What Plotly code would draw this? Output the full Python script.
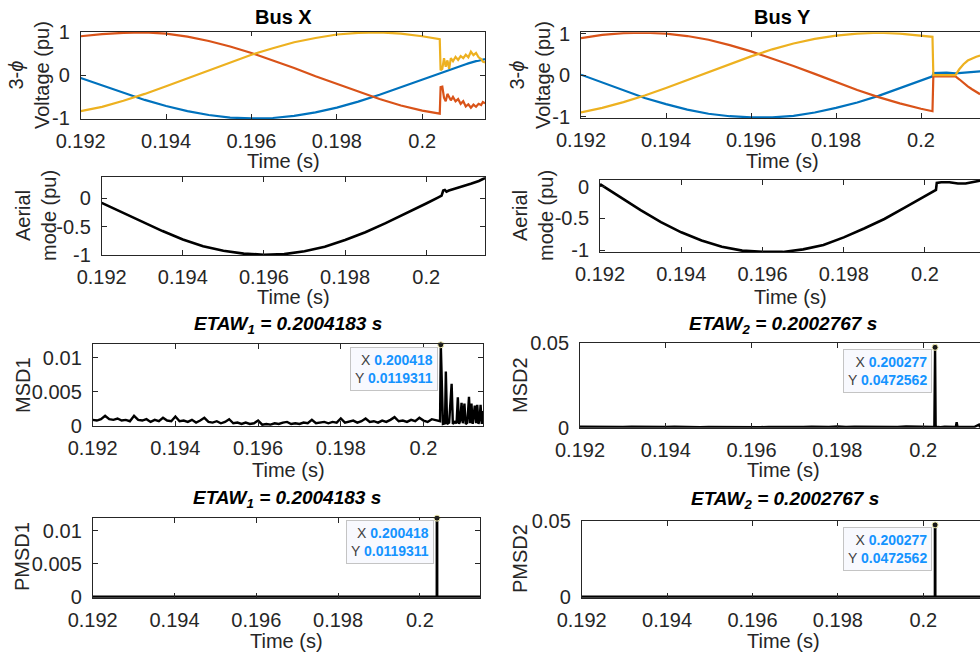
import numpy as np
import plotly.graph_objects as go

W, H = 980, 657

# ---------------- data ----------------
# Bus X three-phase voltages (pu)
t_bus_x = [0.192, 0.1925, 0.193, 0.1935, 0.194, 0.1945, 0.195, 0.1955, 0.196,
           0.1965, 0.197, 0.1975, 0.198, 0.1985, 0.199, 0.1995, 0.2, 0.20041,
           0.20043, 0.20047, 0.20051, 0.20055, 0.20059, 0.20063, 0.20067,
           0.20072, 0.20078, 0.20084, 0.20090, 0.20096, 0.20102, 0.20108,
           0.20114, 0.20120, 0.20126, 0.20132, 0.20138, 0.20142, 0.20147]
va_x = [-0.06, -0.23, -0.41, -0.57, -0.71, -0.83, -0.92, -0.98, -1.00,
        -0.99, -0.94, -0.86, -0.75, -0.61, -0.45, -0.27, -0.09, 0.05,
        0.06, 0.07, 0.09, 0.10, 0.11, 0.13, 0.14, 0.16, 0.18, 0.20, 0.22,
        0.24, 0.26, 0.28, 0.30, 0.31, 0.33, 0.34, 0.36, 0.37, 0.38]
vb_x = [0.91, 0.96, 0.99, 1.00, 0.97, 0.90, 0.80, 0.67, 0.52,
        0.35, 0.17, -0.02, -0.20, -0.38, -0.55, -0.70, -0.82, -0.89,
        -0.27, -0.26, -0.52, -0.60, -0.43, -0.50, -0.58, -0.50, -0.60,
        -0.55, -0.66, -0.60, -0.72, -0.67, -0.75, -0.68, -0.73, -0.66,
        -0.69, -0.62, -0.65]
vc_x = [-0.83, -0.73, -0.59, -0.43, -0.25, -0.07, 0.12, 0.30, 0.48,
        0.63, 0.77, 0.87, 0.95, 0.99, 1.00, 0.97, 0.91, 0.84,
        0.12, 0.15, 0.40, 0.20, 0.35, 0.15, 0.40, 0.33, 0.43, 0.36,
        0.45, 0.40, 0.48, 0.42, 0.55, 0.47, 0.52, 0.42, 0.38, 0.32, 0.30]

# Bus Y three-phase voltages (pu)
t_bus_y = [0.192, 0.1925, 0.193, 0.1935, 0.194, 0.1945, 0.195, 0.1955, 0.196,
           0.1965, 0.197, 0.1975, 0.198, 0.1985, 0.199, 0.1995, 0.2, 0.20027,
           0.20029, 0.2004, 0.2006, 0.20081, 0.2009, 0.2010, 0.2011, 0.2012,
           0.2013, 0.20139]
va_y = [0.01, -0.18, -0.37, -0.55, -0.70, -0.83, -0.93, -0.99, -1.02,
        -1.02, -0.98, -0.90, -0.79, -0.66, -0.50, -0.32, -0.13, -0.03,
        0.05, 0.06, 0.06, 0.04, 0.05, 0.06, 0.07, 0.07, 0.08, 0.09]
vb_y = [0.89, 0.97, 1.01, 1.02, 1.00, 0.94, 0.85, 0.72, 0.57,
        0.40, 0.22, 0.03, -0.17, -0.36, -0.53, -0.68, -0.81, -0.87,
        -0.03, -0.03, -0.03, -0.03, -0.10, -0.19, -0.27, -0.34, -0.41, -0.46]
vc_y = [-0.90, -0.79, -0.65, -0.49, -0.31, -0.12, 0.08, 0.27, 0.45,
        0.62, 0.76, 0.87, 0.95, 1.00, 1.02, 1.00, 0.95, 0.92,
        0.00, 0.00, 0.00, 0.00, 0.14, 0.26, 0.35, 0.40, 0.44, 0.47]

# Aerial mode (pu)
t_aer_x = [0.192, 0.1925, 0.193, 0.1935, 0.194, 0.1945, 0.195, 0.1955, 0.196,
           0.1965, 0.197, 0.1975, 0.198, 0.1985, 0.199, 0.1995, 0.2, 0.2003,
           0.20038, 0.20042, 0.20046, 0.2005, 0.20056, 0.2007, 0.2009, 0.2011,
           0.2013, 0.20147]
aer_x = [-0.08, -0.25, -0.42, -0.58, -0.73, -0.85, -0.93, -0.98, -1.00,
         -0.99, -0.94, -0.86, -0.74, -0.60, -0.44, -0.27, -0.09, 0.02,
         0.05, 0.14, 0.15, 0.12, 0.14, 0.17, 0.21, 0.26, 0.31, 0.37]
t_aer_y = [0.192, 0.1925, 0.193, 0.1935, 0.194, 0.1945, 0.195, 0.1955, 0.196,
           0.1965, 0.197, 0.1975, 0.198, 0.1985, 0.199, 0.1995, 0.2, 0.20027,
           0.20029, 0.2004, 0.2006, 0.20081, 0.201, 0.2012, 0.20139]
aer_y = [0.04, -0.17, -0.37, -0.56, -0.72, -0.85, -0.95, -1.01, -1.03,
         -1.03, -0.99, -0.92, -0.80, -0.66, -0.51, -0.33, -0.15, -0.05,
         0.06, 0.07, 0.07, 0.05, 0.05, 0.08, 0.10]

# MSD1: pre-detection samples every 0.1 ms from 0.192 s (values x1e-3)
msd1_pre = [0.9, 0.8, 1.0, 1.5, 1.0, 0.9, 1.1, 0.8, 0.9, 0.7,
            1.5, 0.9, 0.8, 1.0, 0.6, 0.9, 0.7, 1.2, 0.8, 0.7,
            1.4, 0.7, 0.8, 0.6, 0.9, 0.5, 0.8, 1.2, 0.6, 0.5,
            0.7, 0.4, 0.6, 1.0, 0.4, 0.5, 0.3, 0.5, 0.3, 0.4,
            0.8, 0.2, 0.3, 0.2, 0.4, 0.3, 0.5, 0.6, 0.3, 0.4,
            0.3, 0.5, 0.4, 0.9, 0.4, 0.5, 0.6, 0.4, 0.6, 0.5,
            1.1, 0.5, 0.6, 0.8, 0.5, 0.7, 1.1, 0.6, 0.7, 0.5,
            0.8, 0.6, 0.9, 1.3, 0.7, 0.8, 0.6, 0.9, 0.7, 1.2,
            0.8, 0.6, 1.0, 0.8, 0.7]
msd1_post_t = [0.2004183, 0.20047, 0.20052, 0.20054, 0.20057, 0.20062, 0.20068,
               0.20071, 0.20076, 0.20080, 0.20083, 0.20086, 0.20089, 0.20092,
               0.20095, 0.20099, 0.20102, 0.20106, 0.20110, 0.20113, 0.20116,
               0.20119, 0.20124, 0.20127, 0.20130, 0.20133, 0.20136, 0.20138,
               0.20141, 0.20143, 0.20146]
msd1_post = [11.9311, 0.3, 0.4, 8.0, 0.3, 0.5, 6.2,
             0.3, 0.6, 0.4, 4.2, 0.3, 0.8, 3.4,
             0.4, 3.3, 0.3, 0.5, 4.3, 0.4, 3.3,
             0.3, 3.0, 0.4, 3.1, 0.3, 1.2, 3.1,
             0.3, 2.2, 0.4]

# MSD2: pre-detection samples every 0.2 ms from 0.192 s (values x1e-3)
msd2_pre = [0.6, 0.5, 0.7, 0.5, 0.6, 0.4, 0.6, 0.5, 0.7, 0.4,
            0.5, 0.6, 0.4, 0.5, 0.3, 0.5, 0.4, 0.3, 0.5, 0.3,
            0.4, 0.3, 0.5, 0.4, 0.3, 0.5, 0.4, 0.6, 0.4, 0.5,
            0.7, 0.4, 0.6, 0.5, 0.7, 0.5, 0.6, 0.4, 0.7, 0.5,
            0.6, 0.5]
msd2_post_t = [0.20026, 0.2002767, 0.20029, 0.20035, 0.2004, 0.2005, 0.2006,
               0.2007, 0.20076, 0.20078, 0.2008, 0.2009, 0.201, 0.2011,
               0.2012, 0.2013, 0.20132, 0.2014]
msd2_post = [0.4, 47.2562, 0.3, 0.5, 0.3, 0.6, 0.4,
             0.5, 0.4, 3.2, 0.5, 0.4, 0.6, 0.4,
             0.5, 1.8, 0.6, 0.4]

# Detection results
etaw1_t, etaw1_v = 0.2004183, 0.0119311
etaw2_t, etaw2_v = 0.2002767, 0.0472562
pmsd1_t = [0.192, 0.2004173, etaw1_t, 0.2004193, 0.20147]
pmsd1_v = [0, 0, etaw1_v, 0, 0]
pmsd2_t = [0.192, 0.2002757, etaw2_t, 0.2002777, 0.20140]
pmsd2_v = [0, 0, etaw2_v, 0, 0]

x_ticks = [0.192, 0.194, 0.196, 0.198, 0.2]
x_ticktext = ["0.192", "0.194", "0.196", "0.198", "0.2"]

# ---------------- styling ----------------
BLUE, ORANGE, YELLOW = "#0072BD", "#D95319", "#EDB120"
AX = "#262626"
FONT = "Liberation Sans, Arial, Helvetica, sans-serif"
FS = 20
TIP_BLUE = "#1493FF"

msd1_t = list(0.192 + 0.0001 * np.arange(len(msd1_pre))) + msd1_post_t
msd1_v = [v * 1e-3 for v in msd1_pre + msd1_post]
msd2_t = list(0.192 + 0.0002 * np.arange(len(msd2_pre))) + msd2_post_t
msd2_v = [v * 1e-3 for v in msd2_pre + msd2_post]

# panel geometry in pixels: (x0, x1, top, bottom)
panels = {
    1: dict(box=(80.7, 485, 31.5, 119.3), xr=0.20147, yr=[-1.02, 1.02],
            yt=[-1, 0, 1], ytt=["-1", "0", "1"], right=True),
    2: dict(box=(581, 980, 32.3, 118.3), xr=0.201388, yr=[-1.04, 1.03],
            yt=[-1, 0, 1], ytt=["-1", "0", "1"], right=False),
    3: dict(box=(101.7, 485, 177.3, 255), xr=0.20145, yr=[-1.005, 0.375],
            yt=[-1, -0.5, 0], ytt=["-1", "-0.5", "0"], right=True),
    4: dict(box=(600, 980, 180, 252.3), xr=0.201354, yr=[-1.036, 0.106],
            yt=[-1, -0.5, 0], ytt=["-1", "-0.5", "0"], right=False),
    5: dict(box=(92.7, 483.3, 344.3, 426), xr=0.201446, yr=[0, 0.012],
            yt=[0, 0.005, 0.01], ytt=["0", "0.005", "0.01"], right=True),
    6: dict(box=(580, 980, 342.7, 427.7), xr=0.201324, yr=[0, 0.05],
            yt=[0, 0.05], ytt=["0", "0.05"], right=False),
    7: dict(box=(92.7, 480, 517.7, 597.7), xr=0.20147, yr=[-0.00013, 0.012],
            yt=[0, 0.005, 0.01], ytt=["0", "0.005", "0.01"], right=True),
    8: dict(box=(581.7, 980, 520.7, 597.7), xr=0.201328, yr=[-0.0005, 0.05],
            yt=[0, 0.05], ytt=["0", "0.05"], right=False),
}

fig = go.Figure()


def add_line(k, x, y, color, width=2.2):
    fig.add_trace(go.Scatter(x=x, y=y, mode="lines", xaxis=f"x{k}", yaxis=f"y{k}",
                             line=dict(color=color, width=width), showlegend=False,
                             hoverinfo="skip"))


add_line(1, t_bus_x, va_x, BLUE)
add_line(1, t_bus_x, vb_x, ORANGE)
add_line(1, t_bus_x, vc_x, YELLOW)
add_line(2, t_bus_y, va_y, BLUE)
add_line(2, t_bus_y, vb_y, ORANGE)
add_line(2, t_bus_y, vc_y, YELLOW)
add_line(3, t_aer_x, aer_x, "black", 2.6)
add_line(4, t_aer_y, aer_y, "black", 2.6)
add_line(5, msd1_t, msd1_v, "black", 2.4)
add_line(6, msd2_t, msd2_v, "black", 2.4)
add_line(7, pmsd1_t, pmsd1_v, "black", 2.8)
add_line(8, pmsd2_t, pmsd2_v, "black", 2.8)

# data-tip markers and boxes
tips = [(5, etaw1_t, etaw1_v, "0.200418", "0.0119311"),
        (6, etaw2_t, etaw2_v, "0.200277", "0.0472562"),
        (7, etaw1_t, etaw1_v, "0.200418", "0.0119311"),
        (8, etaw2_t, etaw2_v, "0.200277", "0.0472562")]
annotations = []
for k, tx, ty, sx, sy in tips:
    fig.add_trace(go.Scatter(x=[tx], y=[ty], mode="markers", xaxis=f"x{k}", yaxis=f"y{k}",
                             marker=dict(color="#1a1a1a", size=6,
                                         line=dict(color="#F2EDB0", width=1)),
                             cliponaxis=False, showlegend=False, hoverinfo="skip"))
    annotations.append(dict(
        x=tx, y=ty, xref=f"x{k}", yref=f"y{k}", xanchor="right", yanchor="top",
        xshift=-3, yshift=-2, showarrow=False, align="right",
        text=(f"<span style='color:#404040'>X</span> <b><span style='color:{TIP_BLUE}'>{sx}</span></b><br>"
              f"<span style='color:#404040'>Y</span> <b><span style='color:{TIP_BLUE}'>{sy}</span></b>"),
        font=dict(family=FONT, size=14), bgcolor="#F8F9FE", bordercolor="#C4C4C4",
        borderwidth=1, borderpad=4))

layout_axes = {}
for k, p in panels.items():
    x0, x1, top, bot = p["box"]
    layout_axes[f"xaxis{k}"] = dict(
        domain=[x0 / W, x1 / W], range=[0.192, p["xr"]], anchor=f"y{k}",
        tickmode="array", tickvals=x_ticks, ticktext=x_ticktext,
        ticks="inside", ticklen=5, tickwidth=0.8, tickcolor=AX,
        showline=True, linecolor=AX, linewidth=0.8, mirror="ticks",
        showgrid=False, zeroline=False, ticklabelstandoff=4, automargin=False,
        tickfont=dict(family=FONT, size=FS, color=AX))
    layout_axes[f"yaxis{k}"] = dict(
        domain=[1 - bot / H, 1 - top / H], range=p["yr"], anchor=f"x{k}",
        tickmode="array", tickvals=p["yt"], ticktext=p["ytt"],
        ticks="inside", ticklen=5, tickwidth=0.8, tickcolor=AX,
        showline=True, linecolor=AX, linewidth=0.8,
        mirror="ticks" if p["right"] else False,
        showgrid=False, zeroline=False, ticklabelstandoff=6, automargin=False,
        tickfont=dict(family=FONT, size=FS, color=AX))


def txt(x, y, s, size=FS, angle=0, color=AX):
    annotations.append(dict(x=x / W, y=1 - y / H, xref="paper", yref="paper",
                            text=s, showarrow=False, textangle=angle,
                            xanchor="center", yanchor="middle",
                            font=dict(family=FONT, size=size, color=color)))


# panel titles
txt(283, 17, "<b>Bus X</b>", 20, color="black")
txt(782, 17, "<b>Bus Y</b>", 20, color="black")
txt(288, 325, "<b><i>ETAW<sub>1</sub> = 0.2004183 s</i></b>", 19, color="black")
txt(783, 325, "<b><i>ETAW<sub>2</sub> = 0.2002767 s</i></b>", 19, color="black")
txt(287, 499, "<b><i>ETAW<sub>1</sub> = 0.2004183 s</i></b>", 19, color="black")
txt(785, 500, "<b><i>ETAW<sub>2</sub> = 0.2002767 s</i></b>", 19, color="black")

# x-axis titles
for cx, cy in [(283, 161), (782, 161), (293, 297), (790, 297),
               (288, 470), (783, 470), (286, 641), (783, 641)]:
    txt(cx, cy, "Time (s)")

# y-axis titles
txt(29, 75, "3-<i>ϕ</i><br>Voltage (pu)", angle=-90)
txt(530, 75, "3-<i>ϕ</i><br>Voltage (pu)", angle=-90)
txt(36, 216, "Aerial<br>mode (pu)", angle=-90)
txt(533, 216, "Aerial<br>mode (pu)", angle=-90)
txt(23, 385, "MSD1", angle=-90)
txt(520, 385, "MSD2", angle=-90)
txt(22, 557, "PMSD1", angle=-90)
txt(520, 559, "PMSD2", angle=-90)

fig.update_layout(
    width=W, height=H, margin=dict(l=0, r=0, t=0, b=0, pad=0, autoexpand=False),
    paper_bgcolor="white", plot_bgcolor="white", showlegend=False,
    annotations=annotations, **layout_axes)

fig.write_html("out.html")
